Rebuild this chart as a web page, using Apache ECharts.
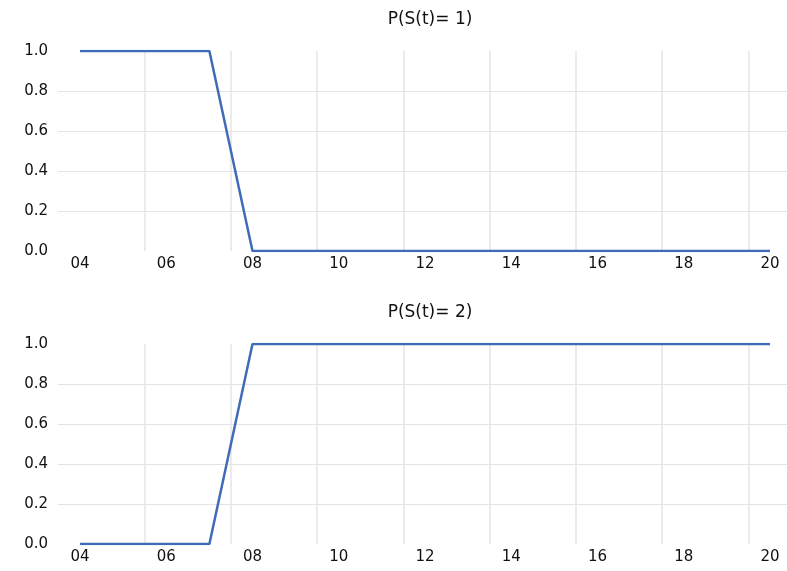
<!DOCTYPE html>
<html>
<head>
<meta charset="utf-8">
<script src="https://cdn.jsdelivr.net/npm/echarts@6/dist/echarts.min.js"></script>
<style>html,body{margin:0;padding:0;background:#fff}#c{width:787px;height:571px}</style>
</head>
<body>
<div id="c"></div>
<script>
// ---- data ----
var years = ['04','05','06','07','08','09','10','11','12','13','14','15','16','17','18','19','20'];
var halfYears = ['04','04.5','05','05.5','06','06.5','07','07.5','08','08.5','09','09.5','10','10.5','11','11.5','12','12.5','13','13.5','14','14.5','15','15.5','16','16.5','17','17.5','18','18.5','19','19.5','20'];
var probState1 = [1,1,1,1,0,0,0,0,0,0,0,0,0,0,0,0,0];
var probState2 = [0,0,0,0,1,1,1,1,1,1,1,1,1,1,1,1,1];
var titles = ['P(S(t)= 1)', 'P(S(t)= 2)'];

var FONT = 'DejaVu Sans';
var TXT = '#111111';
var GRID = '#e4e4e4';
var BLUE = '#3f6cb9';

var panels = [{top: 51, data: probState1}, {top: 344, data: probState2}];
var grids = [], xAxes = [], yAxes = [], series = [], titleArr = [];
panels.forEach(function (p, k) {
  // background grid (y labels + horizontal gridlines)
  var gA = grids.length;
  grids.push({left: 58, right: 0, top: p.top, height: 200});
  xAxes.push({gridIndex: gA, type: 'value', show: false, min: 0, max: 1});
  yAxes.push({gridIndex: gA, type: 'value', min: 0, max: 1, interval: 0.2,
    axisLine: {show: false}, axisTick: {show: false},
    axisLabel: {margin: 10, color: TXT, fontFamily: FONT, fontSize: 15,
      formatter: function (v) { return v.toFixed(1); }},
    splitLine: {show: true, lineStyle: {width: 1, color: ['transparent', GRID, GRID, GRID, GRID, 'transparent']}}
  });
  // data grid
  var gB = grids.length;
  grids.push({left: 80, right: 17, top: p.top, height: 200});
  var xMain = xAxes.length;
  xAxes.push({gridIndex: gB, type: 'category', data: years, boundaryGap: false,
    axisLine: {show: false}, axisTick: {show: false},
    axisLabel: {interval: 1, margin: 6, color: TXT, fontFamily: FONT, fontSize: 15},
    splitLine: {show: false}
  });
  xAxes.push({gridIndex: gB, type: 'category', data: halfYears, boundaryGap: false, position: 'top',
    axisLine: {show: false}, axisTick: {show: false}, axisLabel: {show: false},
    splitLine: {show: true, interval: function (i) { return i % 4 === 3; }, lineStyle: {color: GRID, width: 1.5}}
  });
  var yMain = yAxes.length;
  yAxes.push({gridIndex: gB, type: 'value', min: 0, max: 1, show: false, splitLine: {show: false}});
  series.push({type: 'line', xAxisIndex: xMain, yAxisIndex: yMain, data: p.data,
    showSymbol: false, symbol: 'none', lineStyle: {color: BLUE, width: 2.5}, z: 5, animation: false});
  titleArr.push({text: titles[k], left: 425, top: p.top - 45, textAlign: 'center',
    textStyle: {fontFamily: FONT, fontSize: 17, fontWeight: 'normal', color: TXT}});
});

var chart = echarts.init(document.getElementById('c'));
chart.setOption({
  animation: false,
  backgroundColor: '#fff',
  title: titleArr,
  grid: grids,
  xAxis: xAxes,
  yAxis: yAxes,
  series: series
});
</script>
</body>
</html>
